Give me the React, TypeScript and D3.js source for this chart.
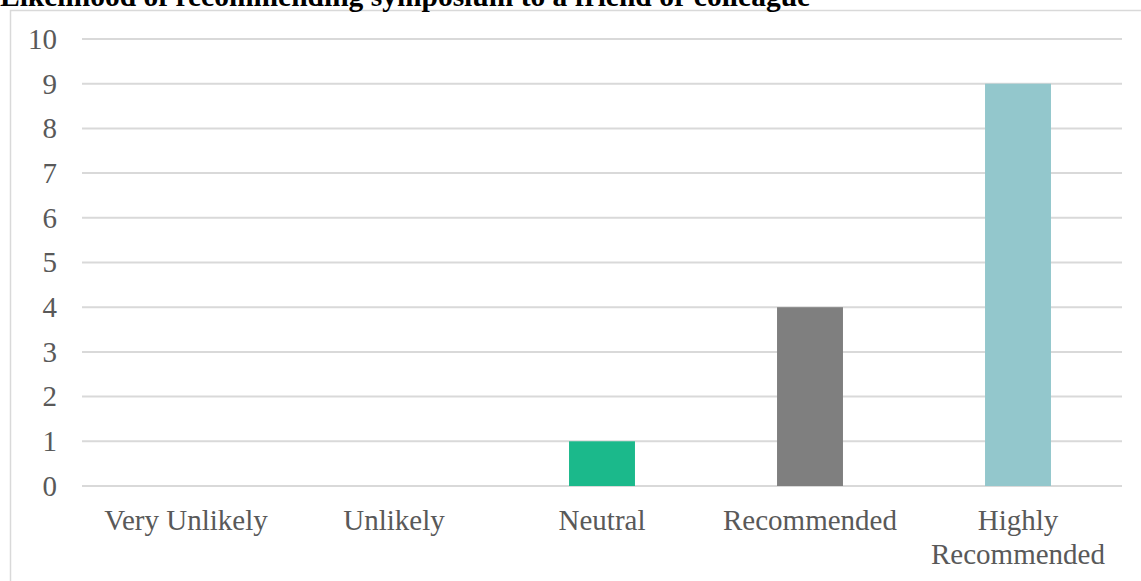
import React, { useEffect, useRef } from 'react';
import * as d3 from 'd3';

const title = 'Likelihood of recommending symposium to a friend or colleague';
const categories = ['Very Unlikely', 'Unlikely', 'Neutral', 'Recommended', 'Highly Recommended'];
const labelLines = [['Very Unlikely'], ['Unlikely'], ['Neutral'], ['Recommended'], ['Highly', 'Recommended']];
const counts = [0, 0, 1, 4, 9];
const barColors = ['#1bb98b', '#1bb98b', '#1bb98b', '#7f7f7f', '#93c7cc'];
const yTicks = [0, 1, 2, 3, 4, 5, 6, 7, 8, 9, 10];

const App = () => {
  const svgRef = useRef<SVGSVGElement>(null);

  useEffect(() => {
    const root = d3.select(svgRef.current);
    root.selectAll('*').remove();

    const W = 1141;
    const H = 581;
    const margin = { top: 39, right: 19, bottom: 95, left: 82 };
    const width = W - margin.left - margin.right;
    const height = H - margin.top - margin.bottom;
    const font = '"Liberation Serif", "Times New Roman", serif';

    root.attr('width', W).attr('height', H);

    // chart frame (runs off the page on right and bottom)
    root.append('rect')
      .attr('x', 10.5).attr('y', 10.5)
      .attr('width', 1300).attr('height', 800)
      .attr('fill', 'none')
      .attr('stroke', '#d9d9d9')
      .attr('stroke-width', 1.5);

    // title sits above the frame, partly cut off by the page top
    root.append('text')
      .attr('x', 0).attr('y', 6)
      .attr('font-family', font)
      .attr('font-weight', 'bold')
      .attr('font-size', 29.5)
      .attr('fill', '#000')
      .text(title);

    const svg = root.append('g')
      .attr('transform', `translate(${margin.left},${margin.top})`);

    const x = d3.scaleBand()
      .domain(categories)
      .range([0, width])
      .paddingInner(0.683)
      .paddingOuter(0.683 / 2);

    const y = d3.scaleLinear()
      .domain([0, 10])
      .range([height, 0]);

    svg.append('g')
      .selectAll('line')
      .data(yTicks)
      .enter().append('line')
      .attr('x1', 0).attr('x2', width)
      .attr('y1', d => y(d)).attr('y2', d => y(d))
      .attr('stroke', '#d9d9d9')
      .attr('stroke-width', 2);

    svg.append('g')
      .selectAll('text')
      .data(yTicks)
      .enter().append('text')
      .attr('x', -25)
      .attr('y', d => y(d))
      .attr('dy', '0.34em')
      .attr('text-anchor', 'end')
      .attr('font-family', font)
      .attr('font-size', 29)
      .attr('fill', '#595959')
      .text(d => d);

    svg.selectAll('.bar')
      .data(counts)
      .enter().append('rect')
      .attr('class', 'bar')
      .attr('x', (d, i) => x(categories[i]))
      .attr('width', x.bandwidth())
      .attr('y', d => y(d))
      .attr('height', d => height - y(d))
      .attr('fill', (d, i) => barColors[i]);

    const xl = svg.append('g')
      .selectAll('text')
      .data(categories)
      .enter().append('text')
      .attr('x', d => x(d) + x.bandwidth() / 2)
      .attr('y', height + 44)
      .attr('text-anchor', 'middle')
      .attr('font-family', font)
      .attr('font-size', 29)
      .attr('fill', '#595959');

    xl.selectAll('tspan')
      .data((d, i) => labelLines[i].map(t => ({ t, cx: x(d) + x.bandwidth() / 2 })))
      .enter().append('tspan')
      .attr('x', d => d.cx)
      .attr('dy', (d, i) => (i === 0 ? 0 : 34))
      .text(d => d.t);
  }, []);

  return (
    <svg ref={svgRef} style={{ position: 'absolute', left: 0, top: 0 }}></svg>
  );
};

export default App;
